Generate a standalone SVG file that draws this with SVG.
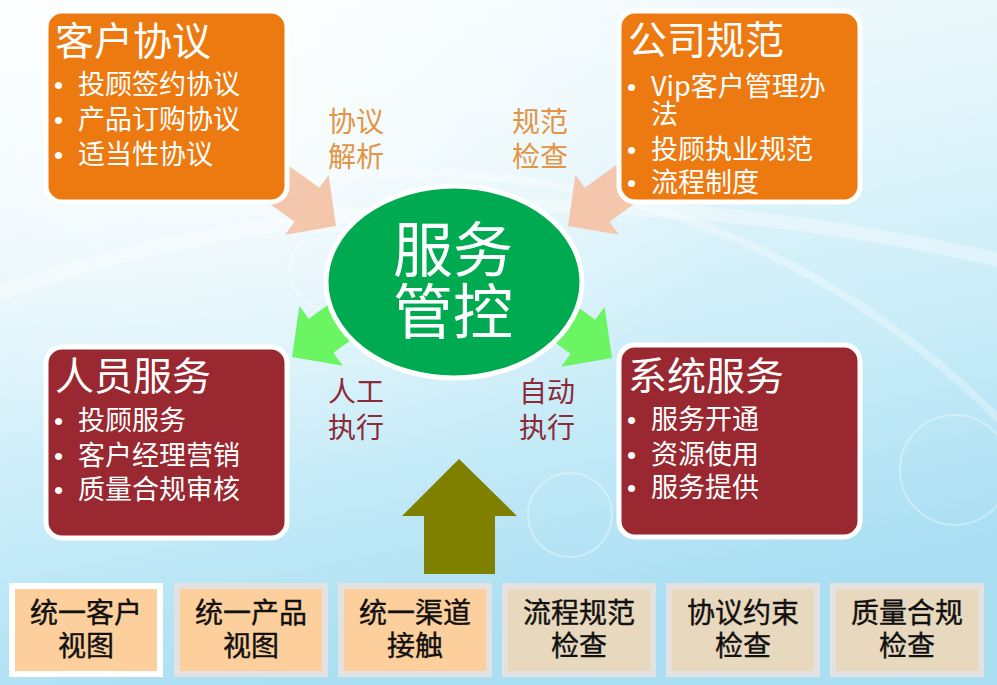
<svg xmlns="http://www.w3.org/2000/svg" width="997" height="685" viewBox="0 0 997 685">
<defs>
<linearGradient id="bg" x1="0" y1="0" x2="0.3" y2="1">
<stop offset="0" stop-color="#FAFDFE"/>
<stop offset="0.35" stop-color="#E6F6FB"/>
<stop offset="0.7" stop-color="#C8ECF8"/>
<stop offset="1" stop-color="#A9DEF3"/>
</linearGradient>
<radialGradient id="hl" cx="0.2" cy="0.1" r="0.6">
<stop offset="0" stop-color="#FFFFFF" stop-opacity="0.8"/>
<stop offset="1" stop-color="#FFFFFF" stop-opacity="0"/>
</radialGradient>
<path id="arr" d="M0,0 L-36,-37 L-36,-21 L-115,-21 L-115,21 L-36,21 L-36,37 Z"/>
<style>
.cjk{font-family:"Noto Sans CJK SC","Noto Sans",sans-serif}
.ttl{font-size:39px;fill:#FFFFFF}
.itm{font-size:27px;fill:#FFFFFF}
.bul{font-family:"Liberation Sans",sans-serif;font-size:26px;fill:#FFFFFF}
.org{fill:#EC7A10;stroke:#FFFFFF;stroke-width:5}
.red{fill:#992830;stroke:#FFFFFF;stroke-width:5}
.lblo{font-size:28px;fill:#E39446}
.lblr{font-size:28px;fill:#8C2A35}
.bx{stroke-width:6}
.bxt{font-size:28px;fill:#111111;stroke:#111111;stroke-width:0.4;text-anchor:middle}
.bubble{fill:none;stroke:#FFFFFF;stroke-opacity:0.35;stroke-width:2}
</style>
</defs>
<rect width="997" height="685" fill="url(#bg)"/>
<rect width="997" height="685" fill="url(#hl)"/>
<path d="M-20,300 C250,200 600,170 1000,260" fill="none" stroke="#FFFFFF" stroke-opacity="0.35" stroke-width="14"/>
<path d="M300,180 C550,150 800,220 1000,420" fill="none" stroke="#FFFFFF" stroke-opacity="0.3" stroke-width="8"/>
<circle class="bubble" cx="570" cy="515" r="42"/>
<circle class="bubble" cx="955" cy="470" r="55"/>
<circle class="bubble" cx="330" cy="270" r="40" stroke-opacity="0.2"/>

<g id="connectors">
<use href="#arr" fill="#F4C6AC" transform="translate(336,226) rotate(36)"/>
<use href="#arr" fill="#F4C6AC" transform="translate(568,226) rotate(144)"/>
<use href="#arr" fill="#6CF562" transform="translate(292,357) rotate(144)"/>
<use href="#arr" fill="#6CF562" transform="translate(612,358) rotate(36)"/>
<path d="M459,459 L517,516 L495,516 L495,574 L424,574 L424,516 L402,516 Z" fill="#808000"/>
</g>

<g id="label-xieyi" class="cjk lblo">
<text x="328" y="132">协议</text>
<text x="328" y="167">解析</text>
</g>
<g id="label-guifan" class="cjk lblo">
<text x="512" y="132">规范</text>
<text x="512" y="167">检查</text>
</g>
<g id="label-rengong" class="cjk lblr">
<text x="328" y="402">人工</text>
<text x="328" y="438">执行</text>
</g>
<g id="label-zidong" class="cjk lblr">
<text x="519" y="402">自动</text>
<text x="519" y="438">执行</text>
</g>

<g id="center">
<ellipse cx="454" cy="282" rx="128" ry="96" fill="#00AA50" stroke="#FFFFFF" stroke-width="5"/>
<text class="cjk" x="453" y="272" font-size="60" fill="#FFFFFF" text-anchor="middle">服务</text>
<text class="cjk" x="453" y="334" font-size="60" fill="#FFFFFF" text-anchor="middle">管控</text>
</g>

<g id="kehu-xieyi">
<rect class="org" x="46" y="11" width="241" height="191" rx="16"/>
<text class="cjk ttl" x="55" y="55">客户协议</text>
<text class="bul" x="54" y="94">•</text><text class="cjk itm" x="78" y="94">投顾签约协议</text>
<text class="bul" x="54" y="129">•</text><text class="cjk itm" x="78" y="129">产品订购协议</text>
<text class="bul" x="54" y="164">•</text><text class="cjk itm" x="78" y="164">适当性协议</text>
</g>

<g id="gongsi-guifan">
<rect class="org" x="619" y="11" width="241" height="191" rx="16"/>
<text class="cjk ttl" x="628" y="54">公司规范</text>
<text class="bul" x="627" y="96">•</text><text class="cjk itm" x="651" y="96">Vip客户管理办</text>
<text class="cjk itm" x="651" y="124">法</text>
<text class="bul" x="627" y="159">•</text><text class="cjk itm" x="651" y="159">投顾执业规范</text>
<text class="bul" x="627" y="192">•</text><text class="cjk itm" x="651" y="192">流程制度</text>
</g>

<g id="renyuan-fuwu">
<rect class="red" x="46" y="347" width="241" height="191" rx="16"/>
<text class="cjk ttl" x="55" y="390">人员服务</text>
<text class="bul" x="54" y="430">•</text><text class="cjk itm" x="78" y="430">投顾服务</text>
<text class="bul" x="54" y="465">•</text><text class="cjk itm" x="78" y="465">客户经理营销</text>
<text class="bul" x="54" y="499">•</text><text class="cjk itm" x="78" y="499">质量合规审核</text>
</g>

<g id="xitong-fuwu">
<rect class="red" x="619" y="345" width="241" height="192" rx="16"/>
<text class="cjk ttl" x="628" y="390">系统服务</text>
<text class="bul" x="627" y="429">•</text><text class="cjk itm" x="651" y="429">服务开通</text>
<text class="bul" x="627" y="464">•</text><text class="cjk itm" x="651" y="464">资源使用</text>
<text class="bul" x="627" y="497">•</text><text class="cjk itm" x="651" y="497">服务提供</text>
</g>

<g id="b1"><rect class="bx" x="12" y="586" width="148" height="88" fill="#FDCF9C" stroke="#FFFFFF"/>
<text class="cjk bxt" x="86" y="623">统一客户</text><text class="cjk bxt" x="86" y="656">视图</text></g>
<g id="b2"><rect class="bx" x="177" y="586" width="148" height="88" fill="#FDCF9C" stroke="#E4E2E0"/>
<text class="cjk bxt" x="251" y="623">统一产品</text><text class="cjk bxt" x="251" y="656">视图</text></g>
<g id="b3"><rect class="bx" x="341" y="586" width="148" height="88" fill="#FDCF9C" stroke="#E4E2E0"/>
<text class="cjk bxt" x="415" y="623">统一渠道</text><text class="cjk bxt" x="415" y="656">接触</text></g>
<g id="b4"><rect class="bx" x="505" y="586" width="148" height="88" fill="#E8D8BE" stroke="#E4E2E0"/>
<text class="cjk bxt" x="579" y="623">流程规范</text><text class="cjk bxt" x="579" y="656">检查</text></g>
<g id="b5"><rect class="bx" x="669" y="586" width="148" height="88" fill="#E8D8BE" stroke="#E4E2E0"/>
<text class="cjk bxt" x="743" y="623">协议约束</text><text class="cjk bxt" x="743" y="656">检查</text></g>
<g id="b6"><rect class="bx" x="833" y="586" width="148" height="88" fill="#E8D8BE" stroke="#E4E2E0"/>
<text class="cjk bxt" x="907" y="623">质量合规</text><text class="cjk bxt" x="907" y="656">检查</text></g>
</svg>
